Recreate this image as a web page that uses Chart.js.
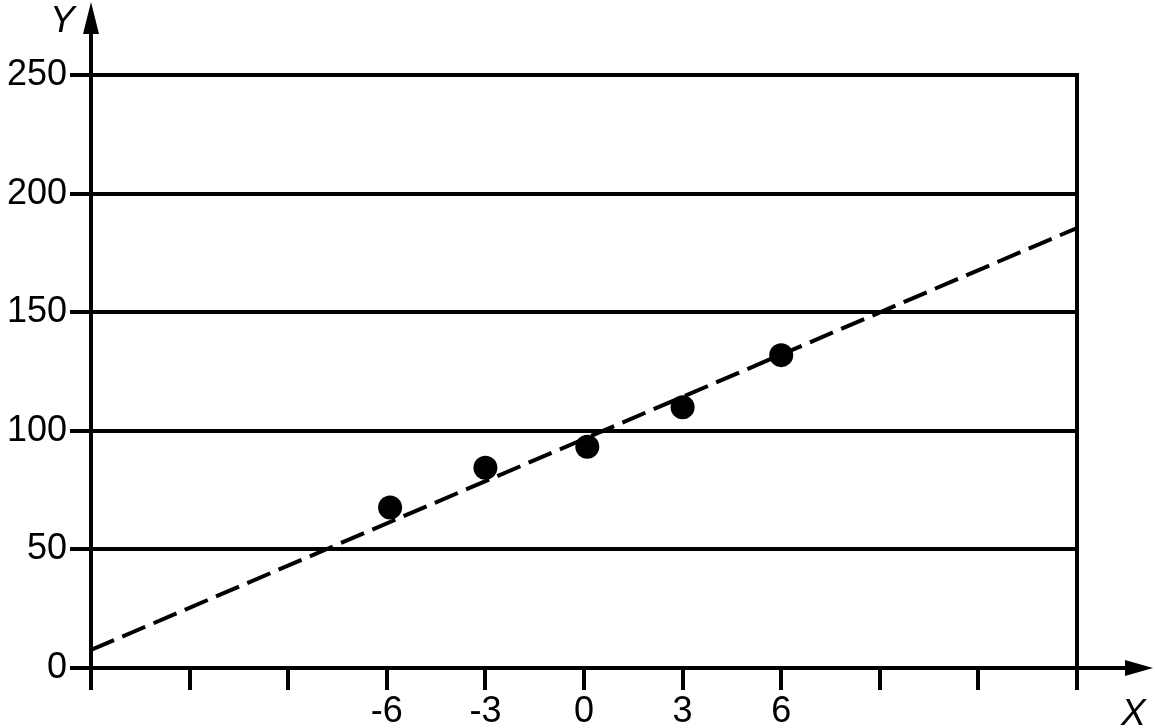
<!DOCTYPE html>
<html>
<head>
<meta charset="utf-8">
<script src="https://cdn.jsdelivr.net/npm/chart.js@4.4.0/dist/chart.umd.min.js"></script>
<style>
    html, body { margin: 0; padding: 0; background: #fff; }
    #divGrafico { width: 1155px; height: 728px; }
</style>
</head>
<body>
<div id="divGrafico"><canvas id="grafico" width="1155" height="728"></canvas></div>
<script>
// datos
const puntosX = [-5.9, -3, 0.1, 3, 6];
const puntosY = [67.7, 84.4, 93.3, 109.9, 131.9];
const rectaX = [-15, 15];
const rectaY = [7.6, 185.5];
const ticksX = [-15, -12, -9, -6, -3, 0, 3, 6, 9, 12, 15];
const etiquetasX = [-6, -3, 0, 3, 6];
const ticksY = [0, 50, 100, 150, 200, 250];

const fuente = "'Liberation Sans', Arial, sans-serif";

// flechas de los ejes y nombres X / Y
const ejes = {
    id: 'ejes',
    afterDraw(chart) {
        const ctx = chart.ctx;
        const area = chart.chartArea;
        const y0 = chart.scales.y.getPixelForValue(0);
        ctx.save();
        ctx.strokeStyle = '#000';
        ctx.fillStyle = '#000';
        ctx.lineWidth = 4;
        ctx.beginPath();
        ctx.moveTo(area.left, area.top);
        ctx.lineTo(area.left, 30);
        ctx.moveTo(area.right, y0);
        ctx.lineTo(chart.width - 26, y0);
        ctx.stroke();

        ctx.beginPath();
        ctx.moveTo(area.left, 2);
        ctx.lineTo(area.left - 8, 34);
        ctx.lineTo(area.left + 8, 34);
        ctx.closePath();
        ctx.fill();

        ctx.beginPath();
        ctx.moveTo(chart.width - 2, y0);
        ctx.lineTo(chart.width - 30, y0 - 8);
        ctx.lineTo(chart.width - 30, y0 + 8);
        ctx.closePath();
        ctx.fill();

        ctx.font = "italic 37px " + fuente;
        ctx.textAlign = 'left';
        ctx.textBaseline = 'alphabetic';
        ctx.fillText('Y', 50, 32);
        ctx.fillText('X', 1121, 725);
        ctx.restore();
    }
};

new Chart(document.getElementById('grafico'), {
    plugins: [ejes],
    data: {
        datasets: [
            {
                type: 'line',
                data: rectaX.map((x, i) => ({ x: x, y: rectaY[i] })),
                borderColor: '#000',
                borderWidth: 4,
                borderDash: [25, 9],
                pointRadius: 0,
                fill: false
            },
            {
                type: 'scatter',
                data: puntosX.map((x, i) => ({ x: x, y: puntosY[i] })),
                backgroundColor: '#000',
                borderWidth: 0,
                pointRadius: 12
            }
        ]
    },
    options: {
        responsive: false,
        animation: false,
        layout: { padding: { left: 0, right: 78, top: 75, bottom: 0 } },
        plugins: {
            legend: { display: false },
            tooltip: { enabled: false }
        },
        scales: {
            x: {
                type: 'linear',
                min: -15,
                max: 15,
                afterBuildTicks: s => { s.ticks = ticksX.map(v => ({ value: v })); },
                grid: { drawOnChartArea: false, drawTicks: true, tickLength: 22, color: '#000', lineWidth: 4 },
                border: { display: true, color: '#000', width: 4 },
                ticks: {
                    autoSkip: false,
                    maxRotation: 0,
                    color: '#000',
                    padding: 0,
                    font: { family: fuente, size: 36 },
                    callback: v => etiquetasX.includes(v) ? String(v) : ''
                },
                afterFit: s => { s.height = 60; }
            },
            y: {
                min: 0,
                max: 250,
                afterBuildTicks: s => { s.ticks = ticksY.map(v => ({ value: v })); },
                grid: { color: '#000', lineWidth: 4, drawTicks: true, tickLength: 21 },
                border: { display: true, color: '#000', width: 4 },
                ticks: { color: '#000', padding: 3, font: { family: fuente, size: 36 } },
                afterFit: s => { s.width = 91; }
            },
            y2: {
                position: 'right',
                display: true,
                min: 0,
                max: 250,
                grid: { display: false },
                ticks: { display: false },
                border: { display: true, color: '#000', width: 4 },
                afterFit: s => { s.width = 0; }
            }
        }
    }
});
</script>
</body>
</html>
